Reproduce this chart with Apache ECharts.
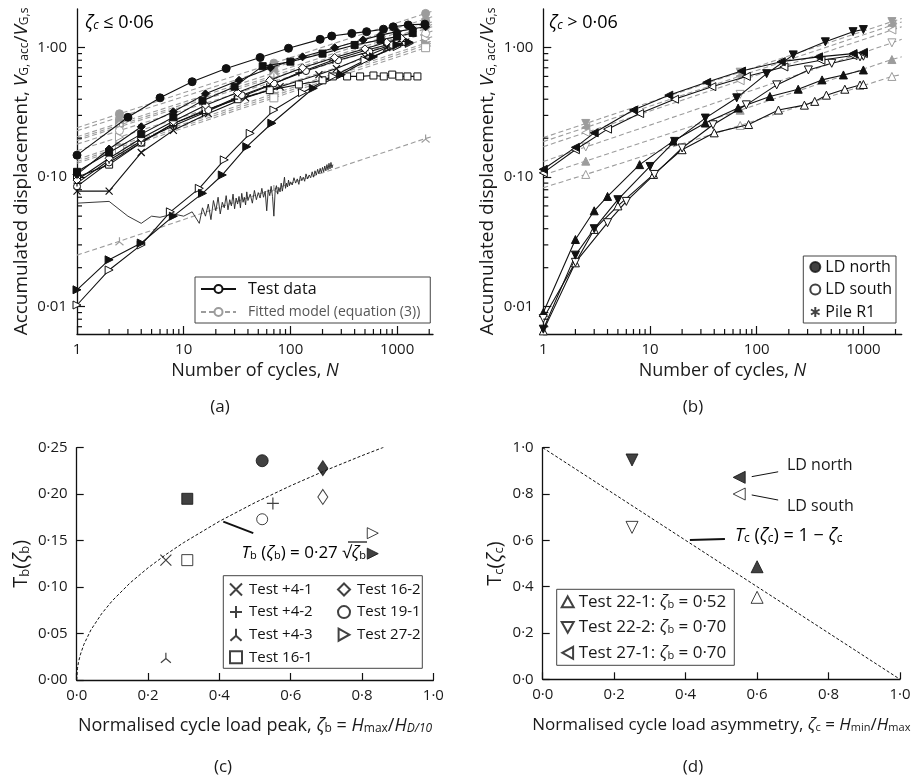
<!DOCTYPE html>
<html>
<head>
<meta charset="utf-8">
<script src="https://cdn.jsdelivr.net/npm/echarts@6.0.0/dist/echarts.min.js"></script>
<style>
html, body { margin: 0; padding: 0; background: #fff; }
#chart { width: 920px; height: 780px; }
</style>
</head>
<body>
<div id="chart"></div>
<script>
// ---------- panel (a): zeta_c <= 0.06, test data [N, V] ----------
const aFilledCircle = [[1,0.148],[3,0.29],[6,0.41],[12,0.546],[25,0.69],[52,0.84],[96,0.99],[190,1.16],[244,1.23],[376,1.29],[518,1.33],[745,1.39],[920,1.45],[1270,1.5],[1820,1.52]];
const aFilledDiamond = [[1,0.105],[2,0.165],[4,0.245],[8,0.32],[16,0.44],[33,0.56],[65,0.7],[130,0.85],[260,1.0],[480,1.15],[700,1.25],[1000,1.33],[1400,1.4],[1850,1.45]];
const aFilledSquare = [[1,0.11],[2,0.155],[4,0.215],[8,0.29],[15,0.39],[30,0.5],[55,0.72],[100,0.78],[200,0.9],[400,1.05],[700,1.15],[1000,1.22],[1400,1.3]];
const aOpenDiamond = [[1,0.095],[2,0.14],[4,0.2],[8,0.27],[16,0.36],[32,0.45],[64,0.56],[130,0.7],[260,0.84],[500,0.98],[800,1.1],[1100,1.18]];
const aPlus = [[1,0.09],[2,0.135],[4,0.19],[8,0.25],[15,0.31],[30,0.4],[60,0.5],[120,0.64],[250,0.8],[500,0.95],[800,1.05],[1100,1.12]];
const aOpenCircle = [[1,0.085],[2,0.13],[4,0.185],[8,0.26],[17,0.33],[35,0.43],[70,0.53],[140,0.66],[280,0.8],[550,0.93],[900,1.05],[1200,1.1]];
const aCross = [[1,0.078],[2,0.078],[4,0.155],[8,0.23],[17,0.31],[38,0.41],[80,0.5],[185,0.62],[270,0.69],[500,0.85],[800,1.0],[1200,1.1]];
const aOpenSquare = [[1,0.1],[2,0.125],[4,0.185],[8,0.26],[16,0.33],[32,0.4],[64,0.47],[120,0.52],[200,0.56],[250,0.6],[340,0.6],[450,0.6],[600,0.61],[750,0.6],[900,0.62],[1050,0.6],[1250,0.6],[1550,0.6]];
const aFilledRight = [[1,0.0135],[2,0.023],[4,0.031],[8,0.05],[15,0.075],[23,0.104],[39,0.172],[67,0.261],[164,0.486],[300,0.62],[600,0.85],[1000,1.05],[1300,1.1]];
const aOpenRight = [[1,0.0103],[2,0.0192],[4,0.03],[7.5,0.054],[14,0.082],[24,0.136],[42,0.218],[70,0.33],[130,0.45],[250,0.6],[500,0.8],[1000,1.02],[1300,1.08]];
const aTriNoisy = [[1,0.063],[2,0.065],[3,0.05],[4,0.044],[5,0.05],[6,0.049],[8,0.052],[10,0.05],[12,0.054],[14,0.044],
  [15,0.058],[16,0.05],[17,0.062],[18,0.047],[19,0.066],[20,0.055],[21,0.07],[22,0.052],[23,0.064],[24,0.058],[25,0.072],[26,0.056],[27,0.067],[28,0.06],[29,0.074],[30,0.057],
  [31,0.069],[32,0.062],[33,0.071],[34,0.058],[35,0.075],[36,0.064],[37,0.07],[38,0.061],[39,0.077],[40,0.066],[42,0.074],[44,0.063],[46,0.079],[48,0.067],[50,0.076],
  [52,0.069],[54,0.082],[56,0.07],[58,0.078],[60,0.055],[62,0.08],[64,0.072],[66,0.085],[68,0.071],[70,0.05],[72,0.079],[74,0.086],[76,0.074],[78,0.083],[80,0.077],
  [82,0.09],[84,0.078],[86,0.087],[88,0.1],[90,0.082],[92,0.09],[94,0.084],[96,0.095],[98,0.086],[100,0.092],[104,0.087],[108,0.099],[112,0.09],[116,0.097],[120,0.088],
  [124,0.102],[128,0.094],[132,0.1],[136,0.093],[140,0.106],[145,0.097],[150,0.104],[155,0.099],[160,0.11],[165,0.1],[170,0.112],[175,0.104],[180,0.115],[185,0.106],
  [190,0.117],[195,0.108],[200,0.119],[205,0.11],[210,0.122],[215,0.112],[220,0.125],[225,0.114],[230,0.128],[235,0.116],[240,0.13],[245,0.118],[250,0.125]];

// fitted model lines of (a): values at N = fitNA
const fitNA = [1, 2.5, 70, 1850, 2170];
const fitA = {
  fCircle:  [0.241, 0.309, 0.76, 1.84, 1.92],
  fDiamond: [0.228, 0.291, 0.70, 1.67, 1.74],
  fSquare:  [0.205, 0.262, 0.64, 1.53, 1.59],
  fODiam:   [0.198, 0.253, 0.61, 1.45, 1.52],
  fPlus:    [0.192, 0.245, 0.59, 1.40, 1.46],
  fOCirc:   [0.18, 0.229, 0.548, 1.29, 1.35],
  fORight:  [0.16, 0.204, 0.49, 1.17, 1.22],
  fFRight:  [0.137, 0.176, 0.441, 1.085, 1.13],
  fCross:   [0.132, 0.17, 0.425, 1.045, 1.09],
  fOSquare: [0.128, 0.164, 0.41, 1.0, 1.05],
  fTri:     [0.025, 0.032, 0.081, 0.199, 0.207]
};

// ---------- panel (b): zeta_c > 0.06 ----------
const bFilledLeft = [[1,0.115],[2,0.17],[3,0.22],[7,0.33],[15,0.43],[34,0.54],[72,0.66],[170,0.78],[380,0.85],[800,0.9],[1000,0.92]];
const bOpenLeft = [[1,0.108],[2,0.163],[4,0.235],[8,0.31],[17,0.4],[38,0.5],[80,0.6],[180,0.71],[400,0.8],[800,0.87],[1000,0.9]];
const bFilledDown = [[1,0.0067],[2,0.025],[3,0.04],[5,0.067],[10,0.121],[17,0.189],[33,0.286],[65,0.41],[124,0.63],[220,0.88],[440,1.11],[800,1.33],[1000,1.38]];
const bOpenDown = [[1,0.0081],[2,0.022],[4,0.0445],[6,0.065],[11,0.105],[20,0.168],[39,0.254],[80,0.362],[154,0.516],[305,0.673],[505,0.758],[930,0.85],[1000,0.86]];
const bFilledUp = [[1,0.009],[2,0.033],[3,0.055],[4,0.071],[8,0.125],[16.5,0.19],[33,0.262],[67,0.342],[133,0.42],[245,0.478],[410,0.564],[650,0.616],[1000,0.673]];
const bOpenUp = [[1,0.0065],[2,0.0218],[3,0.0395],[5,0.06],[10.8,0.105],[20,0.163],[40,0.22],[84,0.255],[160,0.33],[280,0.36],[350,0.385],[450,0.43],[670,0.478],[930,0.515],[1000,0.52]];

const fitNB = [1, 2.5, 70, 1850, 2286];
const fitB = {
  fDown:  [0.202, 0.26, 0.647, 1.59, 1.68],
  fLeft:  [0.188, 0.242, 0.604, 1.49, 1.58],
  fOLeft: [0.172, 0.221, 0.556, 1.37, 1.45],
  fODown: [0.132, 0.171, 0.436, 1.09, 1.16],
  fUp:    [0.104, 0.133, 0.329, 0.81, 0.85],
  fOUp:   [0.083, 0.105, 0.251, 0.60, 0.62]
};

// ---------- panel (c): T_b(zeta_b) ----------
const cTests = {
  'Test +4-1': [0.25, 0.129], 'Test +4-2': [0.55, 0.19], 'Test +4-3': [0.25, 0.024],
  'Test 16-1': [0.31, 0.129], 'Test 16-2': [0.69, 0.197], 'Test 19-1': [0.52, 0.173],
  'Test 27-2': [0.83, 0.158]
};
const cFilled = { circle: [0.52, 0.236], square: [0.31, 0.195], diamond: [0.69, 0.228], right: [0.83, 0.136] };
const cCurveX = [0, 0.002, 0.005, 0.01, 0.02, 0.04, 0.07, 0.1, 0.15, 0.2, 0.25, 0.3, 0.4, 0.5, 0.6, 0.7, 0.8, 0.86];
const cCurveY = [0, 0.0121, 0.0191, 0.027, 0.0382, 0.054, 0.0714, 0.0854, 0.1046, 0.1207, 0.135, 0.1479, 0.1708, 0.1909, 0.2091, 0.2259, 0.2415, 0.2504];
const cLeader = [[0.411, 0.1704], [0.495, 0.158]];

// ---------- panel (d): T_c(zeta_c) ----------
const dTests = { 'Test 22-1': [0.60, 0.354], 'Test 22-2': [0.25, 0.656], 'Test 27-1': [0.55, 0.80] };
const dFilled = { up: [0.60, 0.486], down: [0.25, 0.947], left: [0.55, 0.872] };
const dLine = [[0, 1], [1, 0]];
const dLeaderNorth = [[0.585, 0.875], [0.659, 0.896]];
const dLeaderSouth = [[0.585, 0.796], [0.659, 0.774]];
const dLeaderEq = [[0.412, 0.601], [0.51, 0.606]];

// tick labels / minor ticks for log panels
const minorN = [2,3,4,5,6,7,8,9,20,30,40,50,60,70,80,90,200,300,400,500,600,700,800,900,2000];
const minorV = [0.007,0.008,0.009,0.02,0.03,0.04,0.05,0.06,0.07,0.08,0.09,0.2,0.3,0.4,0.5,0.6,0.7,0.8,0.9];

const FONT = '"Open Sans", "DejaVu Sans", sans-serif';
const TXT = '#1a1a1a';
const BLK = '#111';
const GRY = '#9c9c9c';
const Y_MIN = 0.00615, Y_MAX = 1.99;

const SYM = {
  cross: 'path://M0,0L10,10M10,0L0,10',
  plus: 'path://M5,0L5,10M0,5L10,5',
  tri: 'path://M5,0L5,5.5M5,5.5L0.6,9.5M5,5.5L9.4,9.5',
  star: 'path://M5,0L5,10M0.7,2.5L9.3,7.5M9.3,2.5L0.7,7.5',
  up: 'path://M5,0L10,9L0,9Z',
  down: 'path://M0,0L10,0L5,9Z',
  right: 'path://M0,0L9,5L0,10Z',
  left: 'path://M9,0L0,5L9,10Z',
  circle: 'circle', rect: 'rect', diamond: 'diamond'
};

function rich(sz) {
  const s = Math.round(sz * 0.64);
  return {
    n: { fontSize: sz, fontFamily: FONT, color: TXT },
    i: { fontSize: sz, fontFamily: FONT, color: TXT, fontStyle: 'italic' },
    s: { fontSize: s, fontFamily: FONT, color: TXT, verticalAlign: 'bottom' },
    si: { fontSize: s, fontFamily: FONT, color: TXT, fontStyle: 'italic', verticalAlign: 'bottom' }
  };
}

function markStyle(kind, col) {
  col = col || BLK;
  if (kind === 'filled') return { color: col, borderColor: col, borderWidth: 1 };
  if (kind === 'open') return { color: '#fff', borderColor: col, borderWidth: 1 };
  return { color: 'rgba(0,0,0,0)', borderColor: col, borderWidth: 1.2 };
}

function testLine(gi, data, sym, kind, size) {
  return {
    type: 'line', xAxisIndex: gi, yAxisIndex: gi, data: data,
    symbol: SYM[sym], symbolSize: size || 7,
    lineStyle: { color: BLK, width: 1.1 },
    itemStyle: markStyle(kind), z: 4, silent: true
  };
}

function fitLine(gi, ns, vals, sym, kind) {
  const last = ns.length - 1;
  return {
    type: 'line', xAxisIndex: gi, yAxisIndex: gi,
    data: ns.map((n, k) => [n, vals[k]]),
    symbol: (v, p) => (p.dataIndex === 0 || p.dataIndex === last) ? 'none' : SYM[sym],
    symbolSize: 8,
    lineStyle: { color: GRY, width: 1.1, type: [5, 3] },
    itemStyle: markStyle(kind, GRY), z: 3, silent: true
  };
}

function minorX(gi) {
  return {
    type: 'custom', xAxisIndex: gi, yAxisIndex: gi, silent: true, z: 6,
    data: minorN.map(n => [n, Y_MIN]),
    renderItem: (params, api) => {
      const p = api.coord([api.value(0), api.value(1)]);
      return { type: 'line', shape: { x1: p[0], y1: p[1], x2: p[0], y2: p[1] - 5 }, style: { stroke: BLK, lineWidth: 1.2 } };
    }
  };
}
function minorY(gi) {
  return {
    type: 'custom', xAxisIndex: gi, yAxisIndex: gi, silent: true, z: 6,
    data: minorV.map(v => [1, v]),
    renderItem: (params, api) => {
      const p = api.coord([api.value(0), api.value(1)]);
      return { type: 'line', shape: { x1: p[0], y1: p[1], x2: p[0] + 5, y2: p[1] }, style: { stroke: BLK, lineWidth: 1.2 } };
    }
  };
}

function isPow10(v) { const l = Math.log10(v); return Math.abs(l - Math.round(l)) < 1e-6; }
const axisLineStyle = { show: true, lineStyle: { color: BLK, width: 1.3 } };
const labelStyle = { color: TXT, fontFamily: FONT, fontSize: 15 };

function logX(gi, max) {
  return {
    type: 'log', gridIndex: gi, min: 1, max: max, logBase: 10,
    axisLine: axisLineStyle, splitLine: { show: false },
    axisTick: { show: true, inside: true, length: 8, lineStyle: { color: BLK, width: 1.2 } },
    axisLabel: Object.assign({ margin: 8, showMinLabel: true, showMaxLabel: false,
      formatter: v => isPow10(v) ? String(Math.round(v)) : '' }, labelStyle),
    name: '{n|Number of cycles, }{i|N}', nameLocation: 'middle', nameGap: 28,
    nameTextStyle: { rich: rich(18) }
  };
}
function logY(gi) {
  return {
    type: 'log', gridIndex: gi, min: Y_MIN, max: Y_MAX, logBase: 10,
    axisLine: axisLineStyle, splitLine: { show: false },
    axisTick: { show: true, inside: true, length: 8, lineStyle: { color: BLK, width: 1.2 } },
    axisLabel: Object.assign({ margin: 10, showMinLabel: false, showMaxLabel: false,
      formatter: v => isPow10(v) ? v.toFixed(2).replace('.', '·') : '' }, labelStyle),
    name: '{n|Accumulated displacement, }{i|V}{s|G, acc}{n|/}{i|V}{s|G,s}',
    nameLocation: 'middle', nameGap: 46, nameRotate: 90,
    nameTextStyle: { rich: rich(19) }
  };
}
function linAxis(gi, max, interval, digits, name, gap, rot, nameSize) {
  return {
    type: 'value', gridIndex: gi, min: 0, max: max, interval: interval,
    axisLine: axisLineStyle, splitLine: { show: false },
    axisTick: { show: true, inside: true, length: 7, lineStyle: { color: BLK, width: 1.2 } },
    axisLabel: Object.assign({ margin: rot ? 9 : 8, formatter: v => v.toFixed(digits).replace('.', '·') }, labelStyle),
    name: name, nameLocation: 'middle', nameGap: gap, nameRotate: rot ? 90 : 0,
    nameTextStyle: { rich: rich(nameSize) }
  };
}

const series = [];
// panel (a)
series.push(minorX(0), minorY(0), minorX(1), minorY(1));
const fitAStyle = {
  fCircle: ['circle', 'filled'], fDiamond: ['diamond', 'filled'], fSquare: ['rect', 'filled'],
  fODiam: ['diamond', 'open'], fPlus: ['plus', 'stroke'], fOCirc: ['circle', 'open'],
  fORight: ['right', 'open'], fFRight: ['right', 'filled'], fCross: ['cross', 'stroke'],
  fOSquare: ['rect', 'open'], fTri: ['tri', 'stroke']
};
Object.keys(fitA).forEach(k => series.push(fitLine(0, fitNA, fitA[k], fitAStyle[k][0], fitAStyle[k][1])));
series.push(
  Object.assign(testLine(0, aTriNoisy, 'tri', 'stroke', 6), { symbol: 'none', lineStyle: { color: '#222', width: 0.9 } }),
  testLine(0, aOpenSquare, 'rect', 'open', 7),
  testLine(0, aCross, 'cross', 'stroke', 7),
  testLine(0, aOpenCircle, 'circle', 'open', 7),
  testLine(0, aPlus, 'plus', 'stroke', 7),
  testLine(0, aOpenDiamond, 'diamond', 'open', 8),
  testLine(0, aFilledSquare, 'rect', 'filled', 7),
  testLine(0, aFilledDiamond, 'diamond', 'filled', 8),
  testLine(0, aOpenRight, 'right', 'open', 8),
  testLine(0, aFilledRight, 'right', 'filled', 8),
  testLine(0, aFilledCircle, 'circle', 'filled', 8)
);
// legend dummies for (a)
series.push(
  { name: 'Test data', type: 'line', xAxisIndex: 0, yAxisIndex: 0, data: [], symbol: 'circle', symbolSize: 8,
    lineStyle: { color: BLK, width: 1.3 }, itemStyle: markStyle('open') },
  { name: 'Fitted model (equation (3))', type: 'line', xAxisIndex: 0, yAxisIndex: 0, data: [], symbol: 'circle', symbolSize: 8,
    lineStyle: { color: GRY, width: 1.2, type: [5, 3] }, itemStyle: markStyle('open', GRY) }
);
// panel (b)
const fitBStyle = {
  fDown: ['down', 'filled'], fLeft: ['left', 'filled'], fOLeft: ['left', 'open'],
  fODown: ['down', 'open'], fUp: ['up', 'filled'], fOUp: ['up', 'open']
};
Object.keys(fitB).forEach(k => series.push(fitLine(1, fitNB, fitB[k], fitBStyle[k][0], fitBStyle[k][1])));
series.push(
  testLine(1, bOpenUp, 'up', 'open', 8),
  testLine(1, bFilledUp, 'up', 'filled', 8),
  testLine(1, bOpenDown, 'down', 'open', 8),
  testLine(1, bFilledDown, 'down', 'filled', 8),
  testLine(1, bOpenLeft, 'left', 'open', 8),
  testLine(1, bFilledLeft, 'left', 'filled', 8)
);
series.push(
  { name: 'LD north', type: 'scatter', xAxisIndex: 1, yAxisIndex: 1, data: [], symbol: 'circle', itemStyle: markStyle('filled') },
  { name: 'LD south', type: 'scatter', xAxisIndex: 1, yAxisIndex: 1, data: [], symbol: 'circle', itemStyle: markStyle('open') },
  { name: 'Pile R1', type: 'scatter', xAxisIndex: 1, yAxisIndex: 1, data: [], symbol: SYM.star, itemStyle: { color: BLK, borderColor: BLK, borderWidth: 1.8 } }
);
// panel (c)
series.push({
  type: 'line', xAxisIndex: 2, yAxisIndex: 2, data: cCurveX.map((x, k) => [x, cCurveY[k]]),
  symbol: 'none', lineStyle: { color: BLK, width: 1, type: [3, 2] }, silent: true, z: 2
});
series.push({
  type: 'line', xAxisIndex: 2, yAxisIndex: 2, data: cLeader, symbol: 'none',
  lineStyle: { color: BLK, width: 2 }, silent: true
});
const cStyle = {
  'Test +4-1': ['cross', 'stroke', 11], 'Test +4-2': ['plus', 'stroke', 12], 'Test +4-3': ['tri', 'stroke', 10],
  'Test 16-1': ['rect', 'open', 11], 'Test 16-2': ['diamond', 'open', [10, 15]], 'Test 19-1': ['circle', 'open', 11],
  'Test 27-2': ['right', 'open', 11]
};
Object.keys(cTests).forEach(k => series.push({
  name: k, type: 'scatter', xAxisIndex: 2, yAxisIndex: 2, data: [cTests[k]],
  symbol: SYM[cStyle[k][0]], symbolSize: cStyle[k][2], itemStyle: markStyle(cStyle[k][1]), z: 5
}));
const cFStyle = { circle: ['circle', 12], square: ['rect', 11], diamond: ['diamond', [10, 15]], right: ['right', 11] };
Object.keys(cFilled).forEach(k => series.push({
  type: 'scatter', xAxisIndex: 2, yAxisIndex: 2, data: [cFilled[k]],
  symbol: SYM[cFStyle[k][0]], symbolSize: cFStyle[k][1], itemStyle: markStyle('filled'), z: 5
}));
// panel (d)
series.push({
  type: 'line', xAxisIndex: 3, yAxisIndex: 3, data: dLine, symbol: 'none',
  lineStyle: { color: BLK, width: 1, type: [3, 2] }, silent: true, z: 2
});
[dLeaderNorth, dLeaderSouth].forEach(l => series.push({
  type: 'line', xAxisIndex: 3, yAxisIndex: 3, data: l, symbol: 'none', lineStyle: { color: BLK, width: 1 }, silent: true
}));
series.push({
  type: 'line', xAxisIndex: 3, yAxisIndex: 3, data: dLeaderEq, symbol: 'none', lineStyle: { color: BLK, width: 2 }, silent: true
});
const dStyle = { 'Test 22-1': 'up', 'Test 22-2': 'down', 'Test 27-1': 'left' };
Object.keys(dTests).forEach(k => series.push({
  name: k, type: 'scatter', xAxisIndex: 3, yAxisIndex: 3, data: [dTests[k]],
  symbol: SYM[dStyle[k]], symbolSize: 12, itemStyle: markStyle('open'), z: 5
}));
Object.keys(dFilled).forEach(k => series.push({
  type: 'scatter', xAxisIndex: 3, yAxisIndex: 3, data: [dFilled[k]],
  symbol: SYM[k], symbolSize: 12, itemStyle: markStyle('filled'), z: 5
}));

const dLegendText = {
  'Test 22-1': '{n|Test 22-1: }{i|ζ}{s|b}{n| = 0·52}',
  'Test 22-2': '{n|Test 22-2: }{i|ζ}{s|b}{n| = 0·70}',
  'Test 27-1': '{n|Test 27-1: }{i|ζ}{s|b}{n| = 0·70}'
};

const option = {
  animation: false,
  backgroundColor: '#fff',
  textStyle: { fontFamily: FONT },
  grid: [
    { left: 77, top: 9, width: 356, height: 325, outerBoundsMode: 'none' },
    { left: 543.3, top: 9, width: 358.4, height: 325, outerBoundsMode: 'none' },
    { left: 76.7, top: 447.7, width: 356.7, height: 232.3, outerBoundsMode: 'none' },
    { left: 542.7, top: 447.7, width: 357.3, height: 231.6, outerBoundsMode: 'none' }
  ],
  xAxis: [
    logX(0, 2170), logX(1, 2286),
    linAxis(2, 1, 0.2, 1, '{n|Normalised cycle load peak, }{i|ζ}{s|b}{n| = }{i|H}{s|max}{n|/}{i|H}{si|D/10}', 37, false, 18),
    linAxis(3, 1, 0.2, 1, '{n|Normalised cycle load asymmetry, }{i|ζ}{s|c}{n| = }{i|H}{s|min}{n|/}{i|H}{s|max}', 37, false, 17)
  ],
  yAxis: [
    logY(0), logY(1),
    linAxis(2, 0.25, 0.05, 2, '{n|T}{s|b}{n|(}{i|ζ}{s|b}{n|)}', 45, true, 20),
    linAxis(3, 1, 0.2, 1, '{n|T}{s|c}{n|(}{i|ζ}{s|c}{n|)}', 37, true, 20)
  ],
  legend: [
    { left: 195, top: 277, orient: 'vertical', padding: [4, 10, 4, 5], itemGap: 8, itemWidth: 35, itemHeight: 10,
      borderColor: '#444', borderWidth: 1, selectedMode: false,
      textStyle: { fontFamily: FONT, padding: [0, 0, 0, 7] },
      data: [{ name: 'Test data', textStyle: { fontSize: 16, color: BLK } },
             { name: 'Fitted model (equation (3))', textStyle: { fontSize: 14, color: '#555' } }] },
    { left: 803.3, top: 256, orient: 'vertical', padding: [3, 4, 3, 6], itemGap: 6.5, itemWidth: 10, itemHeight: 10,
      borderColor: '#444', borderWidth: 1, selectedMode: false,
      textStyle: { fontFamily: FONT, fontSize: 16, color: BLK },
      data: ['LD north', 'LD south', 'Pile R1'] },
    { left: 229, top: 582, orient: 'vertical', padding: 0, itemGap: 7.6, itemWidth: 12, itemHeight: 12, selectedMode: false,
      textStyle: { fontFamily: FONT, fontSize: 15, color: BLK, padding: [0, 0, 0, 2] },
      data: ['Test +4-1', 'Test +4-2', 'Test +4-3', 'Test 16-1'] },
    { left: 337, top: 582, orient: 'vertical', padding: 0, itemGap: 7.6, itemWidth: 12, itemHeight: 12, selectedMode: false,
      textStyle: { fontFamily: FONT, fontSize: 15, color: BLK, padding: [0, 0, 0, 2] },
      data: ['Test 16-2', 'Test 19-1', 'Test 27-2'] },
    { left: 556.7, top: 589.3, orient: 'vertical', padding: [4, 8, 4, 4], itemGap: 8.5, itemWidth: 12, itemHeight: 12,
      borderColor: '#444', borderWidth: 1, selectedMode: false,
      formatter: name => dLegendText[name],
      textStyle: { fontFamily: FONT, fontSize: 17, color: BLK, rich: rich(17) },
      data: ['Test 22-1', 'Test 22-2', 'Test 27-1'] }
  ],
  graphic: [
    { type: 'rect', shape: { x: 223.3, y: 575.7, width: 199, height: 92.6 }, style: { fill: 'none', stroke: '#444', lineWidth: 1 } },
    { type: 'text', x: 85, y: 23, style: { text: '{i|ζ}{si|c}{n| ≤ 0·06}', rich: rich(18), verticalAlign: 'middle' } },
    { type: 'text', x: 549, y: 23, style: { text: '{i|ζ}{si|c}{n| > 0·06}', rich: rich(18), verticalAlign: 'middle' } },
    { type: 'text', x: 220, y: 407, style: { text: '(a)', font: '17px ' + FONT, fill: TXT, align: 'center', verticalAlign: 'middle' } },
    { type: 'text', x: 693, y: 407, style: { text: '(b)', font: '17px ' + FONT, fill: TXT, align: 'center', verticalAlign: 'middle' } },
    { type: 'text', x: 223, y: 767, style: { text: '(c)', font: '17px ' + FONT, fill: TXT, align: 'center', verticalAlign: 'middle' } },
    { type: 'text', x: 693, y: 767, style: { text: '(d)', font: '17px ' + FONT, fill: TXT, align: 'center', verticalAlign: 'middle' } },
    { type: 'text', x: 366, y: 553, style: { text: '{i|T}{s|b}{n| (}{i|ζ}{s|b}{n|) = 0·27 √}{i|ζ}{s|b}', rich: rich(17), align: 'right', verticalAlign: 'middle' } },
    { type: 'line', shape: { x1: 348, y1: 542, x2: 367, y2: 542 }, style: { stroke: TXT, lineWidth: 1.3 } },
    { type: 'text', x: 787, y: 465, style: { text: 'LD north', font: '16px ' + FONT, fill: TXT, verticalAlign: 'middle' } },
    { type: 'text', x: 787, y: 506, style: { text: 'LD south', font: '16px ' + FONT, fill: TXT, verticalAlign: 'middle' } },
    { type: 'text', x: 735, y: 536, style: { text: '{i|T}{s|c}{n| (}{i|ζ}{s|c}{n|) = 1 − }{i|ζ}{s|c}', rich: rich(18), verticalAlign: 'middle' } }
  ],
  series: series
};

const chart = echarts.init(document.getElementById('chart'), null, { renderer: 'canvas' });
chart.setOption(option);
</script>
</body>
</html>
